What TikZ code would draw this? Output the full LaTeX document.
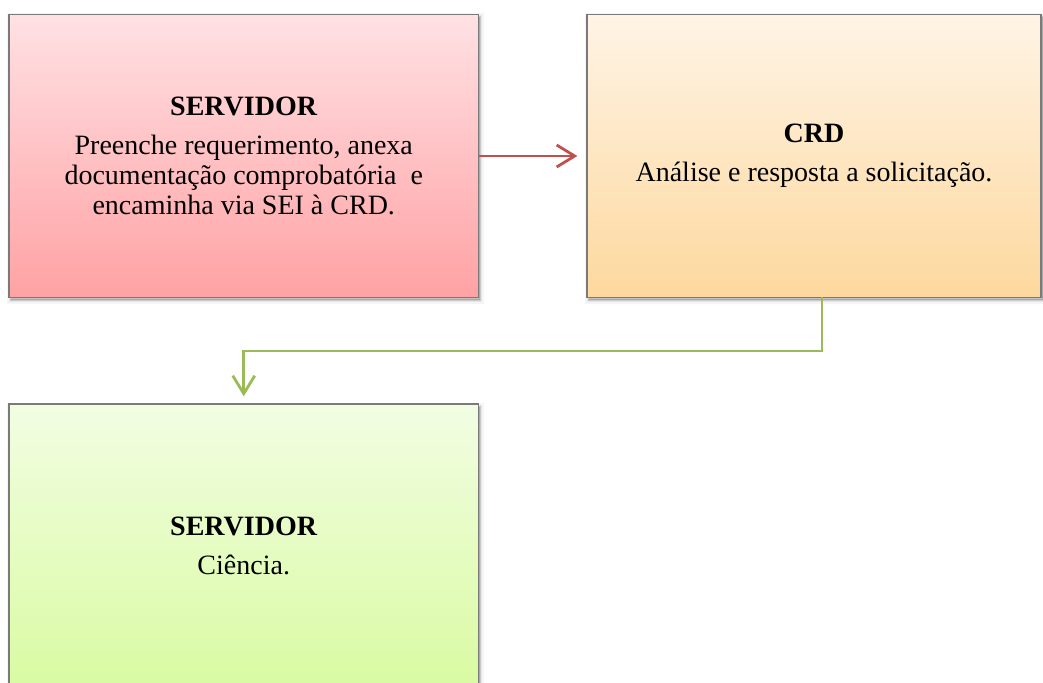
\documentclass[tikz,border=0pt]{standalone}
\usepackage{fontspec}
\setmainfont{Liberation Serif}
\usetikzlibrary{arrows.meta}
\definecolor{pinkTop}{HTML}{FFE1E4}
\definecolor{pinkBot}{HTML}{FFA2A4}
\definecolor{orTop}{HTML}{FFF4E6}
\definecolor{orBot}{HTML}{FDD89E}
\definecolor{grTop}{HTML}{F2FDE3}
\definecolor{grBot}{HTML}{D9FBA2}
\definecolor{redline}{HTML}{C0504D}
\definecolor{greenline}{HTML}{9BBB59}
\definecolor{boxborder}{HTML}{7A7A7A}
\tikzset{
  softshadow/.style={
    preaction={draw=black, line width=7pt, draw opacity=0.04, fill=black, fill opacity=0.04, transform canvas={shift={(1.5pt,-2.5pt)}}},
    preaction={draw=black, line width=4pt, draw opacity=0.06, transform canvas={shift={(1.5pt,-2.5pt)}}},
    preaction={draw=black, line width=1.5pt, draw opacity=0.12, fill=black, fill opacity=0.12, transform canvas={shift={(1.5pt,-2.5pt)}}}
  },
  flowbox/.style={rectangle, softshadow, draw=boxborder, line width=1.3pt,
    align=center, inner sep=0pt,
    font=\fontsize{28}{30}\selectfont},
  redarrow/.style={draw=redline, line width=2.8pt, -{Straight Barb[length=18pt,width=22pt]}},
  greenarrow/.style={draw=greenline, line width=2.8pt, -{Straight Barb[length=18pt,width=22pt]}}
}
\begin{document}
\begin{tikzpicture}[x=1pt,y=-1pt]
\clip (0,0) rectangle (1043,682);
\fill[white] (0,0) rectangle (1043,682);
\node[flowbox, top color=pinkTop, bottom color=pinkBot, minimum width=469.5pt, minimum height=283pt]
  (b1) at (243.75,156) {\textbf{SERVIDOR}\\[9pt]Preenche requerimento, anexa\\documentação comprobatória\ \ e\\encaminha via SEI à CRD.};
\node[flowbox, top color=orTop, bottom color=orBot, minimum width=454pt, minimum height=283pt]
  (b2) at (814,156) {\textbf{CRD}\\[9pt]Análise e resposta a solicitação.};
\node[flowbox, top color=grTop, bottom color=grBot, minimum width=469.5pt, minimum height=283pt]
  (b3) at (243.75,545.5) {\textbf{SERVIDOR}\\[9pt]Ciência.};
\coordinate (g0) at (822,297);
\coordinate (gm) at (500,351);
\draw[redarrow, shorten >=9pt] (b1.east) -- (b2.west);
\draw[greenarrow, shorten >=7pt] (g0) |- (gm) -| (b3.north);
\end{tikzpicture}
\end{document}
